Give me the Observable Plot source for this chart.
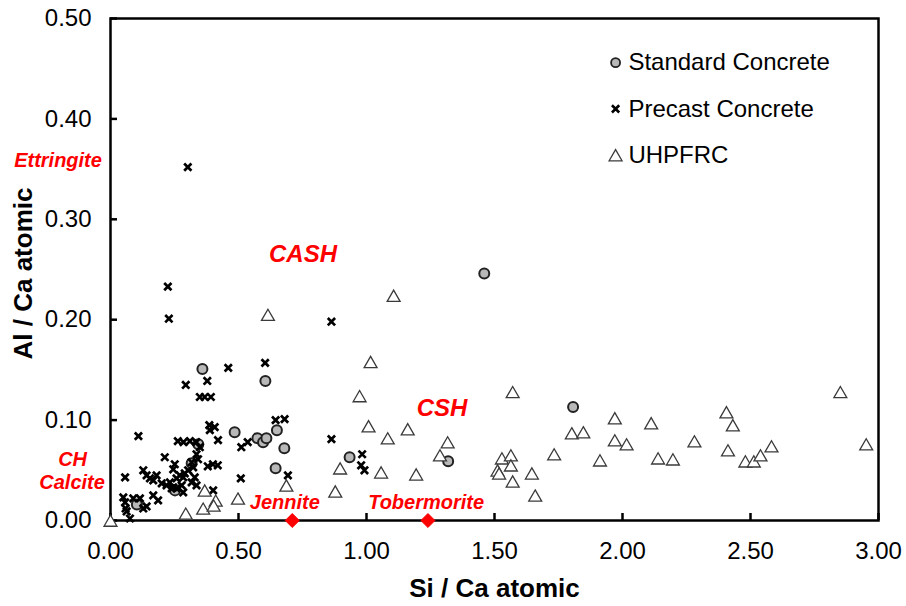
<!DOCTYPE html>
<html>
<head>
<meta charset="utf-8">
<script src="https://cdn.jsdelivr.net/npm/d3@7"></script>
<script src="https://cdn.jsdelivr.net/npm/@observablehq/plot@0.6"></script>
<style>
  html, body { margin: 0; padding: 0; background: #fff; }
  #chart { width: 906px; height: 606px; }
</style>
</head>
<body>
<div id="chart"></div>
<script>
// ---------- data ----------
const standardSi = [1.460, 1.807, 0.934, 1.319, 0.359, 0.605, 0.485, 0.574, 0.596, 0.609, 0.650, 0.679, 0.645, 0.343, 0.317, 0.252, 0.103];
const standardAl = [0.246, 0.113, 0.063, 0.059, 0.151, 0.139, 0.088, 0.082, 0.078, 0.082, 0.090, 0.072, 0.052, 0.076, 0.057, 0.030, 0.016];

const precastSi = [0.302, 0.224, 0.228, 0.863, 0.604, 0.460, 0.294, 0.378, 0.349, 0.368, 0.392, 0.645, 0.680, 0.386, 0.407, 0.388,
  0.109, 0.863, 0.263, 0.285, 0.310, 0.335, 0.349, 0.420, 0.511, 0.536, 0.212, 0.336, 0.342, 0.317, 0.323, 0.303, 0.290,
  0.251, 0.245, 0.380, 0.400, 0.419, 0.271, 0.284, 0.258, 0.180, 0.167, 0.128, 0.141, 0.154, 0.232, 0.245, 0.219, 0.200,
  0.329, 0.336, 0.317, 0.278, 0.284, 0.401, 0.057, 0.509, 0.693, 0.167, 0.186, 0.050, 0.057, 0.059, 0.063, 0.089, 0.115,
  0.128, 0.141, 0.076, 0.983, 0.979, 0.992, 0.239, 0.258];
const precastAl = [0.352, 0.233, 0.201, 0.198, 0.157, 0.152, 0.135, 0.139, 0.123, 0.123, 0.123, 0.100, 0.101, 0.095, 0.093, 0.090,
  0.084, 0.081, 0.079, 0.078, 0.079, 0.078, 0.073, 0.080, 0.073, 0.078, 0.063, 0.066, 0.061, 0.058, 0.053, 0.050, 0.047,
  0.056, 0.051, 0.054, 0.056, 0.055, 0.045, 0.043, 0.042, 0.045, 0.040, 0.050, 0.045, 0.042, 0.038, 0.033, 0.035, 0.037,
  0.043, 0.035, 0.038, 0.035, 0.028, 0.030, 0.043, 0.042, 0.045, 0.025, 0.020, 0.023, 0.018, 0.012, 0.009, 0.022, 0.022,
  0.012, 0.014, 0.002, 0.066, 0.055, 0.050, 0.032, 0.032];

const uhpfrcSi = [0.000, 0.615, 0.368, 0.294, 0.362, 0.411, 0.403, 0.498, 0.687, 0.897, 0.878, 1.106, 1.016, 0.973, 1.571,
  1.008, 1.083, 1.161, 1.317, 1.287, 1.057, 1.194, 1.529, 1.564, 1.564, 1.512, 1.518, 1.571, 1.646, 1.659, 1.733, 1.802,
  1.847, 1.912, 1.970, 1.970, 2.016, 2.112, 2.139, 2.197, 2.281, 2.406, 2.431, 2.412, 2.480, 2.513, 2.539, 2.582, 2.851, 2.952];
const uhpfrcAl = [0.000, 0.205, 0.030, 0.007, 0.012, 0.020, 0.015, 0.022, 0.035, 0.052, 0.029, 0.224, 0.158, 0.124, 0.128,
  0.094, 0.082, 0.091, 0.078, 0.065, 0.048, 0.046, 0.062, 0.065, 0.055, 0.050, 0.047, 0.039, 0.047, 0.025, 0.066, 0.087,
  0.088, 0.060, 0.102, 0.080, 0.076, 0.097, 0.062, 0.061, 0.079, 0.108, 0.095, 0.070, 0.059, 0.059, 0.065, 0.074, 0.128, 0.076];

// reference phases (red diamonds on the x axis)
const phaseNames = ["Jennite", "Tobermorite"];
const phaseSi = [0.71, 1.24];
const phaseAl = [0, 0];

// red annotation labels
const noteText = ["Ettringite", "CASH", "CSH", "CH", "Calcite", "Jennite", "Tobermorite"];
const noteSi = [-0.205, 0.752, 1.295, -0.148, -0.150, 0.681, 1.233];
const noteAl = [0.3516, 0.257, 0.1036, 0.0541, 0.0309, 0.011, 0.011];
const noteSize = [20, 24, 24, 20, 20, 20, 20];

const xTicks = [0, 0.5, 1.0, 1.5, 2.0, 2.5, 3.0];
const yTicks = [0, 0.1, 0.2, 0.3, 0.4, 0.5];

const seriesNames = ["Standard Concrete", "Precast Concrete", "UHPFRC"];
const legendSi = 1.973, legendTextSi = 2.023;
const legendAl = [0.456, 0.410, 0.364];

// ---------- build tables ----------
const zip = (xs, ys) => xs.map((x, i) => ({x, y: ys[i]}));
const standard = zip(standardSi, standardAl);
const precast = zip(precastSi, precastAl);
const uhpfrc = zip(uhpfrcSi, uhpfrcAl);
const phases = phaseNames.map((n, i) => ({name: n, x: phaseSi[i], y: phaseAl[i]}));
const notes = noteText.map((t, i) => ({t, x: noteSi[i], y: noteAl[i], s: noteSize[i]}));
const legend = seriesNames.map((n, i) => ({n, y: legendAl[i]}));

const W = 906, H = 606;
const mL = 110, mR = 28, mT = 18, mB = 86;
const plotW = W - mL - mR, plotH = H - mT - mB;
const fmt = d3.format(".2f");
const FONT = "'Liberation Sans', Arial, Helvetica, sans-serif";

const chart = Plot.plot({
  width: W, height: H,
  marginLeft: mL, marginRight: mR, marginTop: mT, marginBottom: mB,
  style: {fontFamily: FONT, fontSize: "24px", background: "#fff", color: "#000", overflow: "visible"},
  x: {domain: [0, 3], ticks: xTicks, tickFormat: fmt, tickSize: 0, tickPadding: 21, label: null},
  y: {domain: [0, 0.5], ticks: yTicks, tickFormat: fmt, tickSize: 0, tickPadding: 19, label: null},
  marks: [
    Plot.frame({stroke: "#000", strokeWidth: 2.5}),
    Plot.tickX(xTicks, {x: d => d, stroke: "#000", strokeWidth: 2.5, insetTop: plotH - 7}),
    Plot.tickY(yTicks, {y: d => d, stroke: "#000", strokeWidth: 2.5, insetRight: plotW - 7}),
    // series
    Plot.dot(standard, {x: "x", y: "y", r: 5, symbol: "circle", fill: "#b8b8b8", stroke: "#222", strokeWidth: 2}),
    Plot.dot(precast, {x: "x", y: "y", r: 3.4, symbol: "times", stroke: "#000", strokeWidth: 2.7, fill: "none"}),
    Plot.dot(uhpfrc, {x: "x", y: "y", r: 4.8, symbol: "triangle", fill: "#fff", stroke: "#3a3a3a", strokeWidth: 1.3, dy: 2}),
    // reference phases
    Plot.dot(phases, {x: "x", y: "y", r: 6.3, symbol: "diamond2", fill: "#ff0000", stroke: "#ff0000", strokeWidth: 1}),
    // annotations
    Plot.text(notes, {x: "x", y: "y", text: "t", fontSize: "s", fill: "#ff0000", fontWeight: "bold", fontStyle: "italic", textAnchor: "middle", lineAnchor: "bottom"}),
    // axis titles
    Plot.text(["Si / Ca atomic"], {frameAnchor: "bottom", textAnchor: "middle", lineAnchor: "bottom", dy: 76, fontSize: 26, fontWeight: "bold", fill: "#000"}),
    Plot.text(["Al / Ca atomic"], {frameAnchor: "left", textAnchor: "middle", rotate: -90, lineAnchor: "middle", dx: -87, dy: 4, fontSize: 26, fontWeight: "bold", fill: "#000"}),
    // legend
    Plot.dot(legend.slice(0, 1), {x: () => legendSi, y: "y", r: 4.5, symbol: "circle", fill: "#b8b8b8", stroke: "#222", strokeWidth: 1.8}),
    Plot.dot(legend.slice(1, 2), {x: () => legendSi, y: "y", r: 3.4, symbol: "times", stroke: "#000", strokeWidth: 2.6, fill: "none"}),
    Plot.dot(legend.slice(2, 3), {x: () => legendSi, y: "y", r: 4.8, symbol: "triangle", fill: "#fff", stroke: "#3a3a3a", strokeWidth: 1.3, dy: 2}),
    Plot.text(legend, {x: () => legendTextSi, y: "y", text: "n", textAnchor: "start", lineAnchor: "middle", fontSize: 24, fill: "#000"})
  ]
});
document.getElementById("chart").appendChild(chart);
</script>
</body>
</html>
